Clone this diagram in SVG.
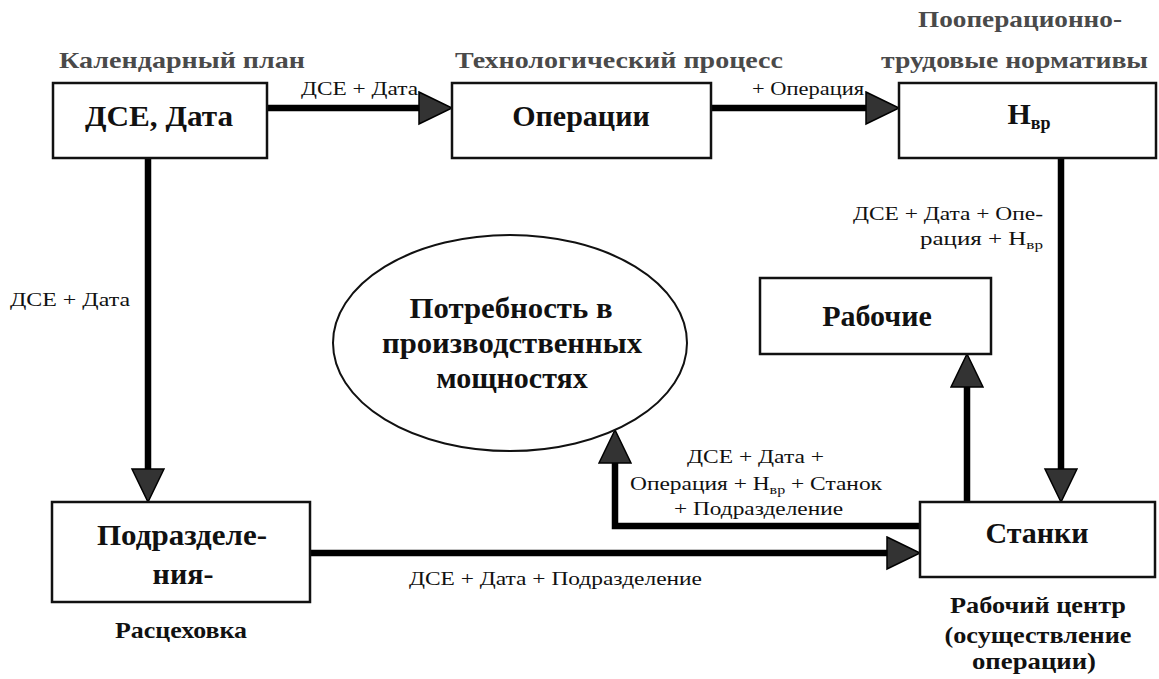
<svg xmlns="http://www.w3.org/2000/svg" width="1159" height="679" viewBox="0 0 1159 679">
<defs>
<style>
.box{fill:#fff;stroke:#111;stroke-width:2.5}
.ell{fill:#fff;stroke:#111;stroke-width:2}
.conn{fill:none;stroke:#000;stroke-width:6.5}
.t{font-family:"Liberation Serif","Times New Roman",serif;fill:#111}
.nodeT{font-size:30px;font-weight:bold;text-anchor:middle}
.title{font-size:24px;font-weight:bold;fill:#4a4a4a}
.lbl{font-size:19px}
.cap{font-size:23px;font-weight:bold;text-anchor:middle}
</style>
<marker id="ah" markerUnits="userSpaceOnUse" markerWidth="36" markerHeight="36" refX="24" refY="17" orient="auto">
<path d="M1,1 L34,17 L1,33 Z" fill="#333" stroke="#000" stroke-width="1.5"/>
</marker>
</defs>
<rect width="1159" height="679" fill="#fff"/>

<g id="titles">
<text class="t title" x="59" y="68" textLength="246" lengthAdjust="spacingAndGlyphs">Календарный  план</text>
<text class="t title" x="455" y="68" textLength="328" lengthAdjust="spacingAndGlyphs">Технологический  процесс</text>
<text class="t title" x="918" y="27" textLength="204" lengthAdjust="spacingAndGlyphs">Пооперационно-</text>
<text class="t title" x="881" y="68" textLength="267" lengthAdjust="spacingAndGlyphs">трудовые  нормативы</text>
</g>

<g id="connectors">
<path class="conn" d="M267,108 H442" marker-end="url(#ah)"/>
<path class="conn" d="M711,108 H889" marker-end="url(#ah)"/>
<path class="conn" d="M148,158 V492" marker-end="url(#ah)"/>
<path class="conn" d="M310,553 H910" marker-end="url(#ah)"/>
<path class="conn" d="M1061,158 V492" marker-end="url(#ah)"/>
<path class="conn" d="M967,502 V364" marker-end="url(#ah)"/>
<path class="conn" d="M920,526 H615 V440" marker-end="url(#ah)"/>
</g>

<g id="connector-labels">
<text class="t lbl" x="301" y="95" textLength="117" lengthAdjust="spacingAndGlyphs">ДСЕ + Дата</text>
<text class="t lbl" x="752" y="95" textLength="112" lengthAdjust="spacingAndGlyphs">+ Операция</text>
<text class="t lbl" x="10" y="306" textLength="120" lengthAdjust="spacingAndGlyphs">ДСЕ + Дата</text>
<text class="t lbl" x="853" y="220" textLength="190" lengthAdjust="spacingAndGlyphs">ДСЕ + Дата + Опе-</text>
<text class="t lbl" x="920" y="245" textLength="123" lengthAdjust="spacingAndGlyphs">рация + Н<tspan font-size="13" dy="4">вр</tspan></text>
<text class="t lbl" x="409" y="585" textLength="293" lengthAdjust="spacingAndGlyphs">ДСЕ + Дата + Подразделение</text>
<text class="t lbl" x="687" y="463" textLength="137" lengthAdjust="spacingAndGlyphs">ДСЕ + Дата +</text>
<text class="t lbl" x="630" y="490" textLength="252" lengthAdjust="spacingAndGlyphs">Операция + Н<tspan font-size="13" dy="4">вр</tspan><tspan dy="-4"> + Станок</tspan></text>
<text class="t lbl" x="674" y="515" textLength="169" lengthAdjust="spacingAndGlyphs">+ Подразделение</text>
</g>

<g id="node-dse-data">
<rect class="box" x="53" y="83" width="214" height="75"/>
<text class="t nodeT" x="159" y="126" textLength="148" lengthAdjust="spacingAndGlyphs">ДСЕ, Дата</text>
</g>

<g id="node-operacii">
<rect class="box" x="452" y="83" width="259" height="75"/>
<text class="t nodeT" x="581" y="126">Операции</text>
</g>

<g id="node-nvr">
<rect class="box" x="899" y="83" width="257" height="75"/>
<text class="t nodeT" x="1029" y="124">Н<tspan font-size="18" dy="5">вр</tspan></text>
</g>

<g id="node-potrebnost">
<ellipse class="ell" cx="510" cy="343" rx="177" ry="108"/>
<text class="t nodeT" x="511" y="318" textLength="203" lengthAdjust="spacingAndGlyphs">Потребность в</text>
<text class="t nodeT" x="512" y="353" textLength="260" lengthAdjust="spacingAndGlyphs">производственных</text>
<text class="t nodeT" x="512" y="388">мощностях</text>
</g>

<g id="node-rabochie">
<rect class="box" x="760" y="278" width="231" height="76"/>
<text class="t nodeT" x="877" y="326">Рабочие</text>
</g>

<g id="node-podrazdeleniya">
<rect class="box" x="52" y="502" width="258" height="100"/>
<text class="t nodeT" x="182" y="545" textLength="170" lengthAdjust="spacingAndGlyphs">Подразделе-</text>
<text class="t nodeT" x="183" y="584">ния-</text>
<text class="t cap" x="181" y="638" textLength="132" lengthAdjust="spacingAndGlyphs">Расцеховка</text>
</g>

<g id="node-stanki">
<rect class="box" x="920" y="502" width="235" height="75"/>
<text class="t nodeT" x="1037" y="543">Станки</text>
<text class="t cap" x="1038" y="613" textLength="176" lengthAdjust="spacingAndGlyphs">Рабочий центр</text>
<text class="t cap" x="1038" y="643" textLength="187" lengthAdjust="spacingAndGlyphs">(осуществление</text>
<text class="t cap" x="1034" y="669" textLength="124" lengthAdjust="spacingAndGlyphs">операции)</text>
</g>
</svg>
